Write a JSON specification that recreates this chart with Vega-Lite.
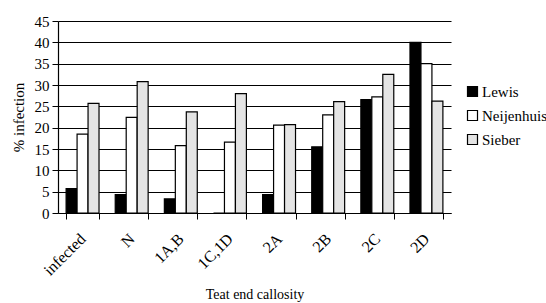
{
  "$schema": "https://vega.github.io/schema/vega-lite/v6.json",
  "width": 393,
  "height": 192,
  "autosize": "none",
  "padding": {"left": 58, "top": 21, "right": 95, "bottom": 90},
  "background": "white",
  "config": {
    "font": "Liberation Serif",
    "view": {"stroke": null}
  },
  "data": {
    "values": [
      {"cat": "infected", "src": "Lewis", "v": 5.7},
      {"cat": "infected", "src": "Neijenhuis", "v": 18.5},
      {"cat": "infected", "src": "Sieber", "v": 25.7},
      {"cat": "N", "src": "Lewis", "v": 4.3},
      {"cat": "N", "src": "Neijenhuis", "v": 22.4},
      {"cat": "N", "src": "Sieber", "v": 30.8},
      {"cat": "1A,B", "src": "Lewis", "v": 3.3},
      {"cat": "1A,B", "src": "Neijenhuis", "v": 15.8},
      {"cat": "1A,B", "src": "Sieber", "v": 23.7},
      {"cat": "1C,1D", "src": "Lewis", "v": 0},
      {"cat": "1C,1D", "src": "Neijenhuis", "v": 16.6},
      {"cat": "1C,1D", "src": "Sieber", "v": 28.0},
      {"cat": "2A", "src": "Lewis", "v": 4.3},
      {"cat": "2A", "src": "Neijenhuis", "v": 20.6},
      {"cat": "2A", "src": "Sieber", "v": 20.7},
      {"cat": "2B", "src": "Lewis", "v": 15.5},
      {"cat": "2B", "src": "Neijenhuis", "v": 23.0},
      {"cat": "2B", "src": "Sieber", "v": 26.1},
      {"cat": "2C", "src": "Lewis", "v": 26.6},
      {"cat": "2C", "src": "Neijenhuis", "v": 27.2},
      {"cat": "2C", "src": "Sieber", "v": 32.5},
      {"cat": "2D", "src": "Lewis", "v": 40.0},
      {"cat": "2D", "src": "Neijenhuis", "v": 35.0},
      {"cat": "2D", "src": "Sieber", "v": 26.2}
    ]
  },
  "mark": {"type": "bar", "stroke": "black", "strokeWidth": 1.2},
  "encoding": {
    "x": {
      "field": "cat",
      "type": "nominal",
      "sort": null,
      "scale": {"paddingInner": 0.33, "paddingOuter": 0.165},
      "axis": {
        "title": "Teat end callosity",
        "titleFont": "Liberation Serif",
        "titleFontSize": 14,
        "titleFontWeight": "normal",
        "titleColor": "black",
        "titlePadding": 9,
        "labelFont": "Liberation Serif",
        "labelAngle": -45,
        "labelAlign": "right",
        "labelBaseline": "middle",
        "labelFontSize": 16,
        "labelColor": "black",
        "labelPadding": 17,
        "tickBand": "extent",
        "tickColor": "black",
        "tickSize": 6,
        "domainColor": "black",
        "domainWidth": 1.2
      }
    },
    "xOffset": {"field": "src", "type": "nominal", "scale": {"paddingInner": 0, "paddingOuter": 0}},
    "y": {
      "field": "v",
      "type": "quantitative",
      "scale": {"domain": [0, 45], "nice": false},
      "axis": {
        "title": "% infection",
        "titleFont": "Liberation Serif",
        "titleFontSize": 15,
        "titleFontWeight": "normal",
        "titleColor": "black",
        "titlePadding": 8,
        "values": [0, 5, 10, 15, 20, 25, 30, 35, 40, 45],
        "labelFont": "Liberation Serif",
        "labelFontSize": 15,
        "labelColor": "black",
        "labelPadding": 3,
        "tickColor": "black",
        "tickSize": 6,
        "domainColor": "black",
        "domainWidth": 1.2,
        "grid": true,
        "gridColor": "black",
        "gridWidth": 1.2
      }
    },
    "fill": {
      "field": "src",
      "type": "nominal",
      "scale": {"domain": ["Lewis", "Neijenhuis", "Sieber"], "range": ["black", "white", "#e4e4e4"]},
      "legend": {
        "title": null,
        "orient": "none",
        "legendX": 407,
        "legendY": 63,
        "symbolType": "square",
        "symbolSize": 100,
        "symbolStrokeColor": "black",
        "symbolStrokeWidth": 1.2,
        "labelFont": "Liberation Serif",
        "labelFontSize": 15,
        "labelColor": "black",
        "labelOffset": 2,
        "labelLimit": 200,
        "rowPadding": 8
      }
    }
  }
}
